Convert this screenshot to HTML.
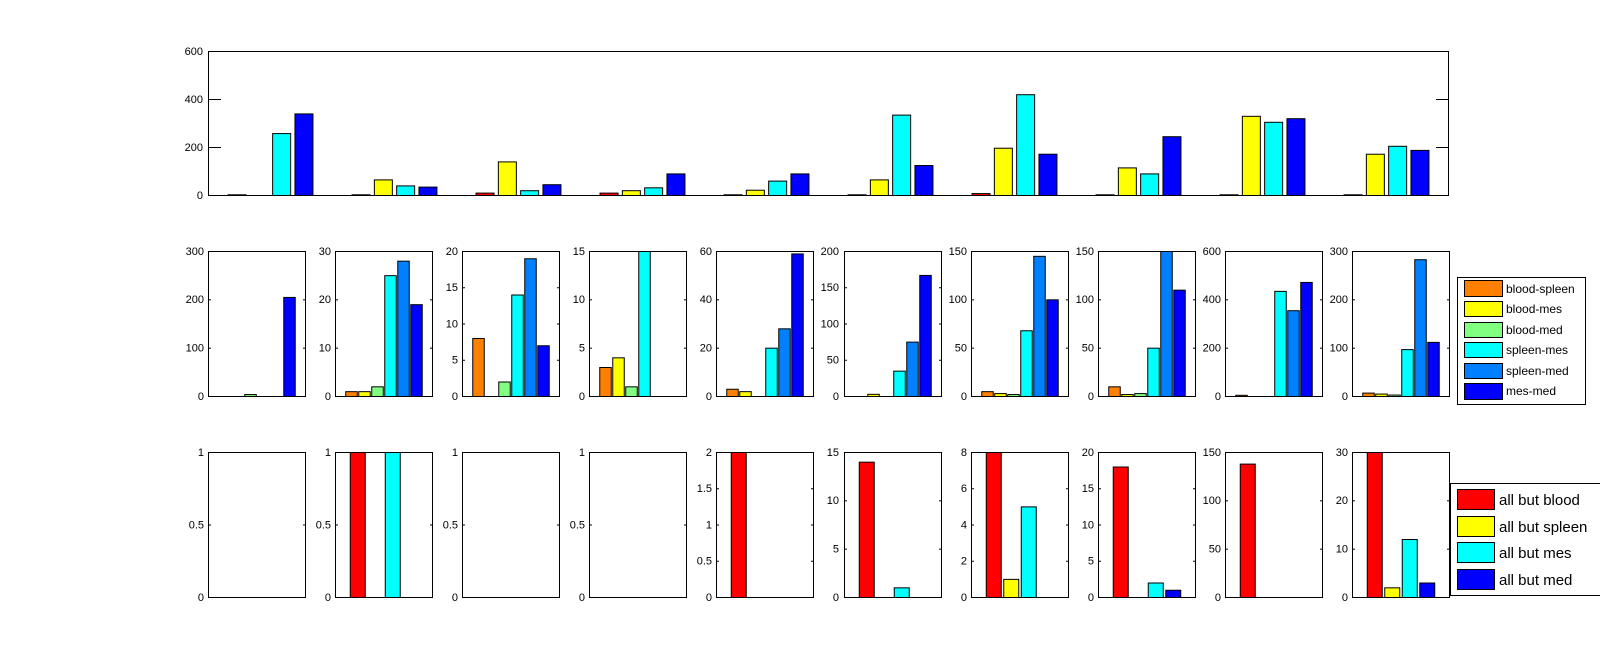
<!DOCTYPE html>
<html><head><meta charset="utf-8"><style>
html,body{margin:0;padding:0;background:#fff;}
svg{display:block;font-family:"Liberation Sans",sans-serif;}
.t{font-size:11px;text-anchor:end;}
</style></head><body>
<svg id="s" width="1600" height="670" xmlns="http://www.w3.org/2000/svg">
<rect width="1600" height="670" fill="#fff"/>
<g id="g"></g>
<g class="t" fill="#000">
<text x="203" y="195" dy=".35em">0</text><text x="203" y="147" dy=".35em">200</text><text x="203" y="99" dy=".35em">400</text><text x="203" y="51" dy=".35em">600</text>
<!-- middle row -->
<text x="204" y="396" dy=".35em">0</text><text x="204" y="347.7" dy=".35em">100</text><text x="204" y="299.3" dy=".35em">200</text><text x="204" y="251" dy=".35em">300</text>
<text x="331" y="396" dy=".35em">0</text><text x="331" y="347.7" dy=".35em">10</text><text x="331" y="299.3" dy=".35em">20</text><text x="331" y="251" dy=".35em">30</text>
<text x="458" y="396" dy=".35em">0</text><text x="458" y="359.75" dy=".35em">5</text><text x="458" y="323.5" dy=".35em">10</text><text x="458" y="287.25" dy=".35em">15</text><text x="458" y="251" dy=".35em">20</text>
<text x="585" y="396" dy=".35em">0</text><text x="585" y="347.7" dy=".35em">5</text><text x="585" y="299.3" dy=".35em">10</text><text x="585" y="251" dy=".35em">15</text>
<text x="712" y="396" dy=".35em">0</text><text x="712" y="347.7" dy=".35em">20</text><text x="712" y="299.3" dy=".35em">40</text><text x="712" y="251" dy=".35em">60</text>
<text x="839" y="396" dy=".35em">0</text><text x="839" y="359.75" dy=".35em">50</text><text x="839" y="323.5" dy=".35em">100</text><text x="839" y="287.25" dy=".35em">150</text><text x="839" y="251" dy=".35em">200</text>
<text x="967" y="396" dy=".35em">0</text><text x="967" y="347.7" dy=".35em">50</text><text x="967" y="299.3" dy=".35em">100</text><text x="967" y="251" dy=".35em">150</text>
<text x="1094" y="396" dy=".35em">0</text><text x="1094" y="347.7" dy=".35em">50</text><text x="1094" y="299.3" dy=".35em">100</text><text x="1094" y="251" dy=".35em">150</text>
<text x="1221" y="396" dy=".35em">0</text><text x="1221" y="347.7" dy=".35em">200</text><text x="1221" y="299.3" dy=".35em">400</text><text x="1221" y="251" dy=".35em">600</text>
<text x="1348" y="396" dy=".35em">0</text><text x="1348" y="347.7" dy=".35em">100</text><text x="1348" y="299.3" dy=".35em">200</text><text x="1348" y="251" dy=".35em">300</text>
<!-- bottom row -->
<text x="204" y="597" dy=".35em">0</text><text x="204" y="524.5" dy=".35em">0.5</text><text x="204" y="452" dy=".35em">1</text>
<text x="331" y="597" dy=".35em">0</text><text x="331" y="524.5" dy=".35em">0.5</text><text x="331" y="452" dy=".35em">1</text>
<text x="458" y="597" dy=".35em">0</text><text x="458" y="524.5" dy=".35em">0.5</text><text x="458" y="452" dy=".35em">1</text>
<text x="585" y="597" dy=".35em">0</text><text x="585" y="524.5" dy=".35em">0.5</text><text x="585" y="452" dy=".35em">1</text>
<text x="712" y="597" dy=".35em">0</text><text x="712" y="560.75" dy=".35em">0.5</text><text x="712" y="524.5" dy=".35em">1</text><text x="712" y="488.25" dy=".35em">1.5</text><text x="712" y="452" dy=".35em">2</text>
<text x="839" y="597" dy=".35em">0</text><text x="839" y="548.7" dy=".35em">5</text><text x="839" y="500.3" dy=".35em">10</text><text x="839" y="452" dy=".35em">15</text>
<text x="967" y="597" dy=".35em">0</text><text x="967" y="560.75" dy=".35em">2</text><text x="967" y="524.5" dy=".35em">4</text><text x="967" y="488.25" dy=".35em">6</text><text x="967" y="452" dy=".35em">8</text>
<text x="1094" y="597" dy=".35em">0</text><text x="1094" y="560.75" dy=".35em">5</text><text x="1094" y="524.5" dy=".35em">10</text><text x="1094" y="488.25" dy=".35em">15</text><text x="1094" y="452" dy=".35em">20</text>
<text x="1221" y="597" dy=".35em">0</text><text x="1221" y="548.7" dy=".35em">50</text><text x="1221" y="500.3" dy=".35em">100</text><text x="1221" y="452" dy=".35em">150</text>
<text x="1348" y="597" dy=".35em">0</text><text x="1348" y="548.7" dy=".35em">10</text><text x="1348" y="500.3" dy=".35em">20</text><text x="1348" y="452" dy=".35em">30</text>
</g>
<!-- legend middle -->
<rect x="1457.5" y="277.5" width="128" height="127" fill="#fff" stroke="#000"/>
<rect x="1464.5" y="280.5" width="38" height="16" fill="#ff8000" stroke="#000"/>
<rect x="1464.5" y="301.5" width="38" height="15" fill="#ffff00" stroke="#000"/>
<rect x="1464.5" y="322.5" width="38" height="15" fill="#80ff80" stroke="#000"/>
<rect x="1464.5" y="342.5" width="38" height="15" fill="#00ffff" stroke="#000"/>
<rect x="1464.5" y="363.5" width="38" height="15" fill="#0080ff" stroke="#000"/>
<rect x="1464.5" y="383.5" width="38" height="16" fill="#0000ff" stroke="#000"/>
<g font-size="12" fill="#000">
<text x="1506" y="293">blood-spleen</text><text x="1506" y="313">blood-mes</text><text x="1506" y="334">blood-med</text>
<text x="1506" y="354">spleen-mes</text><text x="1506" y="375">spleen-med</text><text x="1506" y="395">mes-med</text>
</g>
<!-- legend bottom -->
<rect x="1450.5" y="483.5" width="160" height="112" fill="#fff" stroke="#000"/>
<rect x="1457.5" y="489.5" width="37" height="20" fill="#ff0000" stroke="#000"/>
<rect x="1457.5" y="516.5" width="37" height="20" fill="#ffff00" stroke="#000"/>
<rect x="1457.5" y="542.5" width="37" height="20" fill="#00ffff" stroke="#000"/>
<rect x="1457.5" y="569.5" width="37" height="20" fill="#0000ff" stroke="#000"/>
<g font-size="15" fill="#000">
<text x="1499" y="505">all but blood</text><text x="1499" y="532">all but spleen</text>
<text x="1499" y="558">all but mes</text><text x="1499" y="585">all but med</text>
</g>
</svg>
<script>
(function(){
var g=document.getElementById('g'),NS='http://www.w3.org/2000/svg';
function el(n,a){var e=document.createElementNS(NS,n);for(var k in a)e.setAttribute(k,a[k]);g.appendChild(e);return e;}
function axis(L,T,R,B,ticks,tl){
 el('rect',{x:L+.5,y:T+.5,width:R-L,height:B-T,fill:'none',stroke:'#000'});
 ticks.forEach(function(y){el('line',{x1:L,x2:L+tl,y1:y+.5,y2:y+.5,stroke:'#000'});el('line',{x1:R-tl+1,x2:R+1,y1:y+.5,y2:y+.5,stroke:'#000'});});
}
function bar(cx,w,B,h,c){if(h<=0)return;el('rect',{x:cx-w/2+.5,y:B-h+.5,width:w,height:h,fill:c,stroke:'#000'});}
// top
var T=51,B=195,H=144;
axis(208,T,1448,B,[147,99],13);
var top=[[3,0,258,340],[3,65,40,35],[10,140,20,45],[10,20,32,90],[3,22,60,90],[3,65,335,125],[8,197,420,172],[3,115,90,245],[3,330,305,320],[3,172,205,188]];
var c4=['#ff0000','#ffff00','#00ffff','#0000ff'];
top.forEach(function(g4,i){var cx=270+124*i;g4.forEach(function(v,k){bar(cx+(k-1.5)*22.3,18,B,v/600*H,c4[k]);});});
// middle
var c6=['#ff8000','#ffff00','#80ff80','#00ffff','#0080ff','#0000ff'];
var mid=[[300,3,[0,0,4,0,0,205]],[30,3,[1,1,2,25,28,19]],[20,4,[8,0,2,14,19,7]],[15,3,[3,4,1,16,0,0]],[60,3,[3,2,0,20,28,59]],[200,4,[0,3,0,35,75,167]],[150,3,[5,3,2,68,145,100]],[150,3,[10,2,3,50,160,110]],[600,3,[5,0,0,435,355,472]],[300,3,[7,5,3,97,283,112]]];
var bot=[[1,2,[0,0,0,0]],[1,2,[1,0,1,0]],[1,2,[0,0,0,0]],[1,2,[0,0,0,0]],[2,4,[2,0,0,0]],[15,3,[14,0,1,0]],[8,4,[8,1,5,0]],[20,4,[18,0,2,1]],[150,3,[138,0,0,0]],[30,3,[30,2,12,3]]];
function row(data,T,B,cols,w,step){
 var H=B-T;
 data.forEach(function(d,i){
  var L=Math.round(208+127.1*i),R=L+97,ticks=[];
  for(var j=1;j<d[1];j++)ticks.push(B-j*H/d[1]);
  axis(L,T,R,B,ticks,3);
  var n=d[2].length,cx=L+48.5;
  d[2].forEach(function(v,k){var h=Math.min(v/d[0],1)*H;bar(cx+(k-(n-1)/2)*step,w,B,h,cols[k]);});
  el('line',{x1:L,x2:R,y1:B+.5,y2:B+.5,stroke:'#000'});
 });
}
row(mid,251,396,c6,11.5,13);
row(bot,452,597,c4,15,17.5);
})();
</script>
</body></html>
